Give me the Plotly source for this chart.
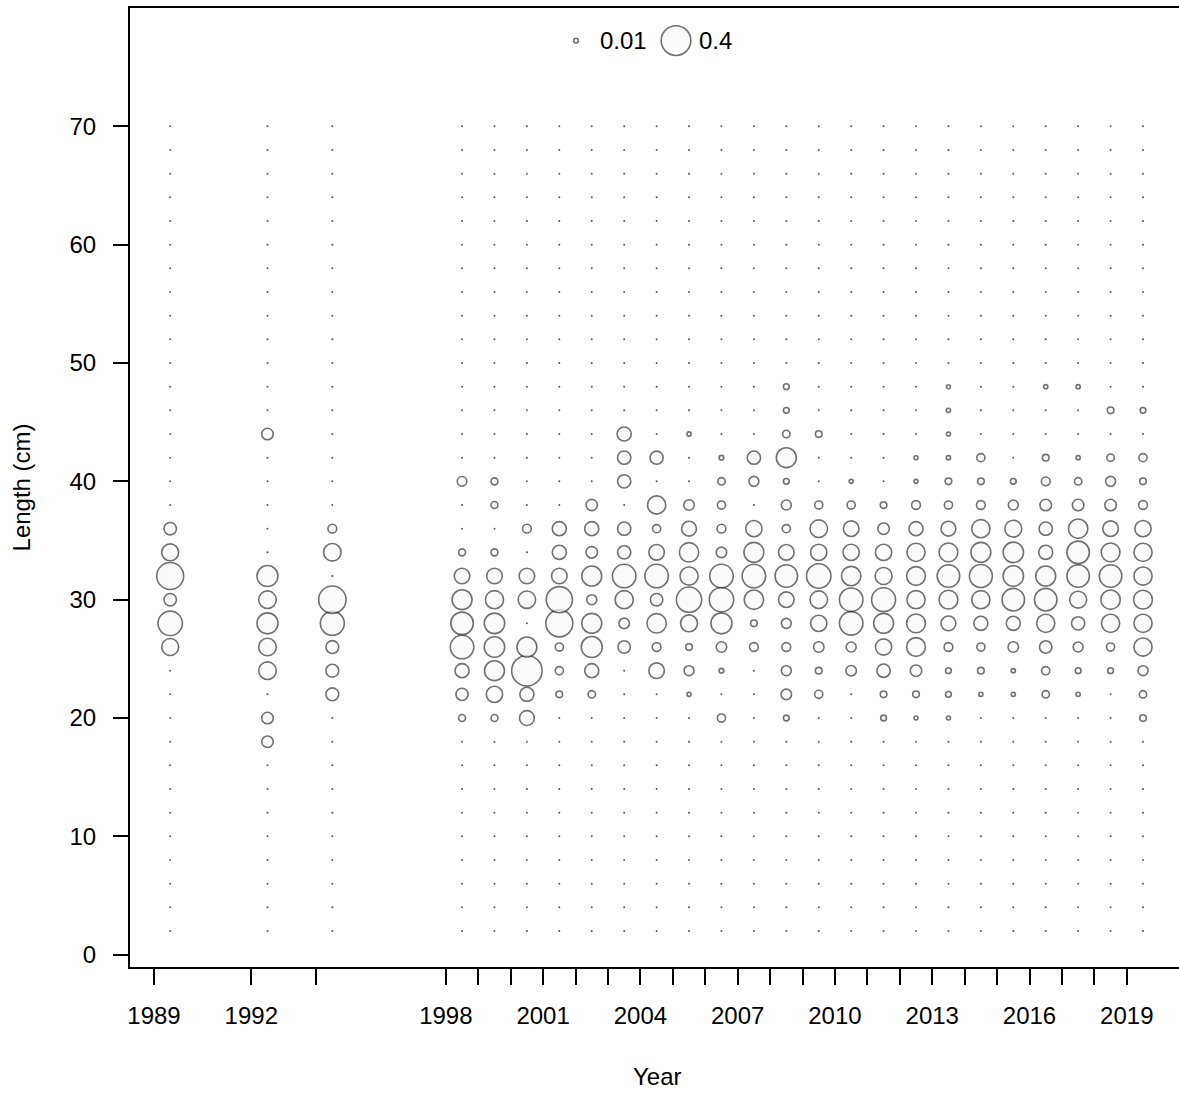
import plotly.graph_objects as go

# ---------------- data ----------------
years = [1989, 1992, 1994] + list(range(1998, 2020))
lengths = list(range(2, 72, 2))

p1989 = {26: 0.13, 28: 0.27, 30: 0.07, 32: 0.33, 34: 0.13, 36: 0.07}
p1992 = {18: 0.06, 20: 0.06, 24: 0.14, 26: 0.14, 28: 0.20, 30: 0.14, 32: 0.20, 44: 0.06}
p1994 = {22: 0.075, 24: 0.075, 26: 0.075, 28: 0.26, 30: 0.34, 34: 0.14, 36: 0.035}
p1998 = {20: 0.022, 22: 0.067, 24: 0.09, 26: 0.25, 28: 0.23, 30: 0.18, 32: 0.11, 34: 0.022, 40: 0.042}
p1999 = {20: 0.022, 22: 0.12, 24: 0.18, 26: 0.19, 28: 0.19, 30: 0.15, 32: 0.11, 34: 0.022, 38: 0.022, 40: 0.022}
p2000 = {20: 0.10, 22: 0.09, 24: 0.42, 26: 0.18, 30: 0.137, 32: 0.11, 36: 0.035}
p2001 = {22: 0.02, 24: 0.03, 26: 0.03, 28: 0.33, 30: 0.31, 32: 0.11, 34: 0.09, 36: 0.09}
p2002 = {22: 0.025, 24: 0.09, 26: 0.20, 28: 0.18, 30: 0.045, 32: 0.18, 34: 0.06, 36: 0.09, 38: 0.058}
p2003 = {26: 0.07, 28: 0.05, 30: 0.15, 32: 0.25, 34: 0.08, 36: 0.08, 40: 0.08, 42: 0.08, 44: 0.09}
p2004 = {24: 0.11, 26: 0.035, 28: 0.17, 30: 0.07, 32: 0.25, 34: 0.11, 36: 0.03, 38: 0.15, 42: 0.078}
p2005 = {22: 0.008, 24: 0.045, 26: 0.02, 28: 0.13, 30: 0.29, 32: 0.15, 34: 0.17, 36: 0.10, 38: 0.05, 44: 0.008}
p2006 = {20: 0.03, 24: 0.01, 26: 0.05, 28: 0.20, 30: 0.27, 32: 0.25, 34: 0.05, 36: 0.035, 38: 0.03, 40: 0.025, 42: 0.01}
p2007 = {26: 0.035, 28: 0.02, 30: 0.17, 32: 0.25, 34: 0.18, 36: 0.12, 40: 0.045, 42: 0.08}
p2008 = {20: 0.015, 22: 0.05, 24: 0.045, 26: 0.035, 28: 0.045, 30: 0.11, 32: 0.23, 34: 0.11, 36: 0.03,
         38: 0.045, 40: 0.015, 42: 0.18, 44: 0.025, 46: 0.015, 48: 0.015}
p2009 = {22: 0.03, 24: 0.02, 26: 0.05, 28: 0.12, 30: 0.14, 32: 0.27, 34: 0.12, 36: 0.14, 38: 0.03, 44: 0.02}
p2010 = {24: 0.05, 26: 0.045, 28: 0.25, 30: 0.25, 32: 0.17, 34: 0.12, 36: 0.11, 38: 0.03, 40: 0.006}
p2011 = {20: 0.015, 22: 0.02, 24: 0.08, 26: 0.12, 28: 0.18, 30: 0.26, 32: 0.13, 34: 0.12, 36: 0.06, 38: 0.02}
p2012 = {20: 0.006, 22: 0.02, 24: 0.06, 26: 0.16, 28: 0.16, 30: 0.15, 32: 0.16, 34: 0.15, 36: 0.09,
         38: 0.035, 40: 0.004, 42: 0.006}
p2013 = {20: 0.006, 22: 0.015, 24: 0.015, 26: 0.035, 28: 0.10, 30: 0.16, 32: 0.23, 34: 0.16, 36: 0.10,
         38: 0.03, 40: 0.02, 42: 0.008, 44: 0.006, 46: 0.008, 48: 0.006}
p2014 = {22: 0.008, 24: 0.02, 26: 0.03, 28: 0.09, 30: 0.15, 32: 0.24, 34: 0.18, 36: 0.15, 38: 0.035,
         40: 0.02, 42: 0.03}
p2015 = {22: 0.008, 24: 0.008, 26: 0.05, 28: 0.09, 30: 0.23, 32: 0.19, 34: 0.19, 36: 0.13, 38: 0.045, 40: 0.015}
p2016 = {22: 0.025, 24: 0.03, 26: 0.07, 28: 0.15, 30: 0.23, 32: 0.18, 34: 0.09, 36: 0.08, 38: 0.06,
         40: 0.035, 42: 0.02, 48: 0.008}
p2017 = {22: 0.008, 24: 0.015, 26: 0.045, 28: 0.08, 30: 0.13, 32: 0.23, 34: 0.23, 36: 0.17, 38: 0.06,
         40: 0.025, 42: 0.008, 48: 0.008}
p2018 = {24: 0.015, 26: 0.03, 28: 0.15, 30: 0.17, 32: 0.23, 34: 0.16, 36: 0.11, 38: 0.06, 40: 0.045,
         42: 0.025, 46: 0.02}
p2019 = {20: 0.02, 22: 0.025, 24: 0.045, 26: 0.15, 28: 0.15, 30: 0.16, 32: 0.15, 34: 0.15, 36: 0.12,
         38: 0.035, 40: 0.02, 42: 0.03, 46: 0.015}

comps = [p1989, p1992, p1994, p1998, p1999, p2000, p2001, p2002, p2003, p2004, p2005, p2006,
         p2007, p2008, p2009, p2010, p2011, p2012, p2013, p2014, p2015, p2016, p2017, p2018, p2019]

tick_years = years
tick_labels = ["1989", "1992", "", "1998", "", "", "2001", "", "", "2004", "", "", "2007", "", "",
               "2010", "", "", "2013", "", "", "2016", "", "", "2019"]
y_ticks = [0, 10, 20, 30, 40, 50, 60, 70]

legend_vals = [0.01, 0.4]
legend_labels = ["0.01", "0.4"]

# ---------------- build ----------------
xs_pos, ys_pos, vs_pos = [], [], []
xs_zero, ys_zero = [], []
for yr, comp in zip(years, comps):
    for L in lengths:
        v = comp.get(L, 0.0)
        if v > 0:
            xs_pos.append(yr + 0.5)
            ys_pos.append(L)
            vs_pos.append(v)
        else:
            xs_zero.append(yr + 0.5)
            ys_zero.append(L)

SIZEREF = 0.4 / 21.0 ** 2
FONT = "Liberation Sans, Arial, sans-serif"
EDGE = "#363636"
FS = 24

fig = go.Figure()
fig.add_trace(go.Scatter(
    x=xs_zero, y=ys_zero, mode="markers", hoverinfo="skip",
    marker=dict(size=2, color="#5a5a5a", line=dict(width=0)),
    showlegend=False))
fig.add_trace(go.Scatter(
    x=xs_pos, y=ys_pos, mode="markers",
    marker=dict(size=vs_pos, sizemode="area", sizeref=SIZEREF, sizemin=2,
                color="rgba(250,250,250,1)", line=dict(color=EDGE, width=1.6)),
    showlegend=False))

# legend (sizes from legend values, placed on an overlay axis in plot-fraction units)
fig.add_trace(go.Scatter(
    x=[0.4252, 0.5205], y=[0.966, 0.966], xaxis="x2", yaxis="y2", mode="markers",
    marker=dict(size=legend_vals, sizemode="area", sizeref=SIZEREF, sizemin=2,
                color="rgba(250,250,250,1)", line=dict(color=EDGE, width=1.6)),
    showlegend=False, hoverinfo="skip"))
for lx, lab in zip([0.446, 0.5405], legend_labels):
    fig.add_annotation(x=lx, y=0.966, xref="x2", yref="y2", text=lab, showarrow=False,
                       xanchor="left", yanchor="middle", font=dict(size=FS, color="black", family=FONT))

fig.add_annotation(x=-0.103, y=0.5, xref="paper", yref="paper", text="Length (cm)", textangle=-90,
                   showarrow=False, xanchor="center", yanchor="middle",
                   font=dict(size=FS, color="black", family=FONT))
fig.add_annotation(x=0.503, y=-0.1146, xref="paper", yref="paper", text="Year",
                   showarrow=False, xanchor="center", yanchor="middle",
                   font=dict(size=FS, color="black", family=FONT))

fig.update_layout(
    width=1179, height=1093,
    margin=dict(l=130, r=0, t=7.5, b=126),
    paper_bgcolor="white", plot_bgcolor="white",
    font=dict(family=FONT, size=FS, color="black"),
    xaxis=dict(range=[1988.26, 2020.61], tickmode="array", tickvals=tick_years, ticktext=tick_labels,
               ticks="outside", ticklen=16, tickwidth=2, tickcolor="black",
               showline=True, linecolor="black", linewidth=2, mirror=True,
               showgrid=False, zeroline=False, ticklabelstandoff=10),
    yaxis=dict(range=[-1.04, 80.0], tickmode="array", tickvals=y_ticks,
               ticks="outside", ticklen=15, tickwidth=2, tickcolor="black",
               showline=True, linecolor="black", linewidth=2, mirror=False,
               showgrid=False, zeroline=False, ticklabelstandoff=12),
    xaxis2=dict(overlaying="x", range=[0, 1], visible=False, fixedrange=True),
    yaxis2=dict(overlaying="y", range=[0, 1], visible=False, fixedrange=True),
    showlegend=False,
)

fig.write_html("out.html", config={"displayModeBar": False},
               post_script="document.body.style.margin='0';document.body.style.overflow='hidden';")
